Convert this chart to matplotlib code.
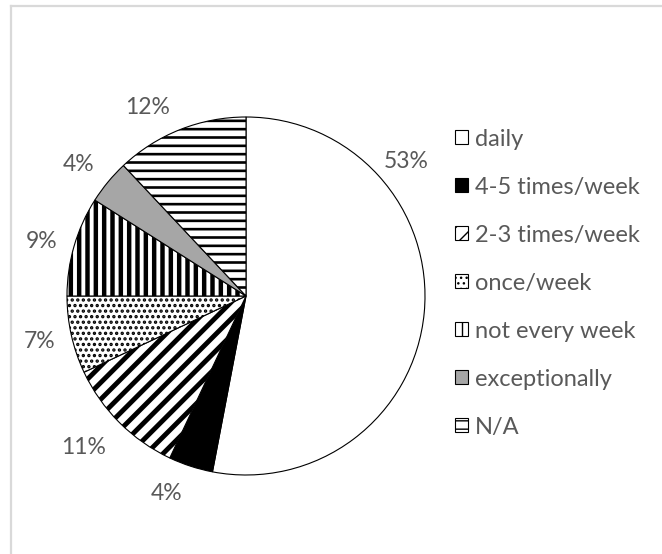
import numpy as np
import matplotlib
matplotlib.use("Agg")
import matplotlib.pyplot as plt
from matplotlib.patches import Patch
from matplotlib.lines import Line2D

plt.rcParams['font.family'] = ['Lato', 'DejaVu Sans']

# Frequency categories and their shares (%)
categories = ["daily", "4-5 times/week", "2-3 times/week", "once/week",
              "not every week", "exceptionally", "N/A"]
shares = [53, 4, 11, 7, 9, 4, 12]

# Fill styles per slice: (facecolor, hatch, hatch linewidth in pt)
styles = [
    ("white", None, 1.0),
    ("black", None, 1.0),
    ("white", "//", 3.5),
    ("white", "...", 1.6),
    ("white", "||", 3.2),
    ("#a6a6a6", None, 1.0),
    ("white", "--", 1.9),
]

# Value label placement around the pie: (angle in degrees, distance / radius)
label_pos = [(40, 1.17), (-112, 1.19), (-137, 1.24), (-167.5, 1.18),
             (165, 1.18), (142, 1.19), (117.5, 1.19)]

W, H = 662, 554
FS_LABEL = 16.5
FS_LEGEND = 17
fig = plt.figure(figsize=(W / 100, H / 100), dpi=100)
fig.patch.set_facecolor("white")

# Chart area border (light grey, runs off the right and bottom edges)
bx, by = 10.5 / W, 1 - 5.5 / H
fig.add_artist(Line2D([bx, bx], [by, -0.1], transform=fig.transFigure,
                      color="#d9d9d9", lw=1.6))
fig.add_artist(Line2D([bx, 1.1], [by, by], transform=fig.transFigure,
                      color="#d9d9d9", lw=1.6))

# Pie axes: centre (246, 296) px, radius 179 px
cx, cy, r = 246, 296, 179
ax = fig.add_axes([(cx - r) / W, (H - cy - r) / H, 2 * r / W, 2 * r / H])

wedges, _, autotexts = ax.pie(
    shares, startangle=90, counterclock=False, radius=1,
    colors=[s[0] for s in styles],
    wedgeprops=dict(edgecolor="black", linewidth=0.8),
    autopct=lambda p: f"{p:.0f}%", pctdistance=1.18,
    textprops=dict(color="#595959", fontsize=FS_LABEL),
)
for w, (fc, hatch, hlw) in zip(wedges, styles):
    if hatch:
        w.set_hatch(hatch)
        if hasattr(w, "set_hatch_linewidth"):
            w.set_hatch_linewidth(hlw)

for t, (a, d) in zip(autotexts, label_pos):
    rad = np.deg2rad(a)
    t.set_position((d * np.cos(rad), d * np.sin(rad)))

ax.set_xlim(-1, 1)
ax.set_ylim(-1, 1)
ax.axis("off")

# Legend
handles = []
for (fc, hatch, hlw), name in zip(styles, categories):
    p = Patch(facecolor=fc, edgecolor="black", hatch=hatch, linewidth=0.8,
              label=name)
    if hatch and hasattr(p, "set_hatch_linewidth"):
        p.set_hatch_linewidth(hlw)
    handles.append(p)

leg = fig.legend(handles=handles, loc="upper left",
                 bbox_to_anchor=(455 / W, 1 - 128.5 / H),
                 frameon=False, fontsize=FS_LEGEND, labelcolor="#595959",
                 handlelength=0.55, handleheight=0.55, handletextpad=0.3,
                 labelspacing=1.145, borderpad=0, borderaxespad=0)

fig.savefig("out.png", dpi=100)
